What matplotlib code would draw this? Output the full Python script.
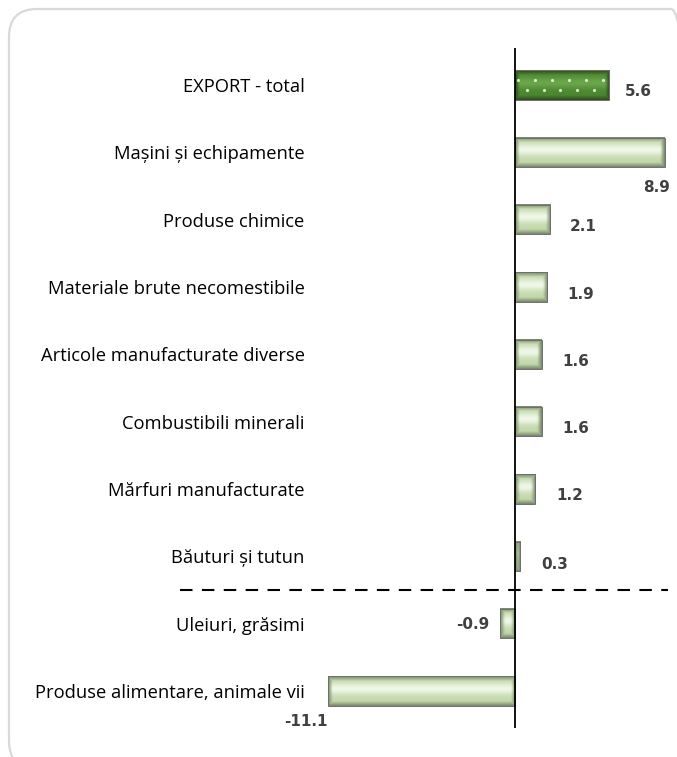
import numpy as np
import matplotlib.pyplot as plt
from matplotlib.colors import to_rgb
from matplotlib.patches import FancyBboxPatch
from matplotlib.transforms import IdentityTransform

categories = [
    "EXPORT - total",
    "Mașini și echipamente",
    "Produse chimice",
    "Materiale brute necomestibile",
    "Articole manufacturate diverse",
    "Combustibili minerali",
    "Mărfuri manufacturate",
    "Băuturi și tutun",
    "Uleiuri, grăsimi",
    "Produse alimentare, animale vii",
]
values = [5.6, 8.9, 2.1, 1.9, 1.6, 1.6, 1.2, 0.3, -0.9, -11.1]

# label offsets in pixels (dx, dy, ha)
label_pos = [
    (15, -6, "left"),
    (-8, -35, "center"),
    (19, -7, "left"),
    (20, -7, "left"),
    (20, -7, "left"),
    (20, -7, "left"),
    (21, -7, "left"),
    (21, -8, "left"),
    (-10, -1, "right"),
    (-22, -31, "center"),
]

PX_PER_UNIT = 16.85
BAR_H = 0.44


def bevel_image(w, h, edge, mid, hi, bw=5):
    # pillow-style bar: dark rim fading into a light centre
    w = max(int(round(w)), 2)
    h = max(int(round(h)), 2)
    xx, yy = np.meshgrid(np.arange(w) + 0.5, np.arange(h) + 0.5)
    d = np.minimum.reduce([xx, w - xx, yy, h - yy])
    t = np.clip(d / bw, 0, 1)[..., None]
    e, m, g = (np.array(to_rgb(c)) for c in (edge, mid, hi))
    img = e * (1 - t) + m * t
    band = np.exp(-((yy / h - 0.42) / 0.2) ** 2)[..., None] * (t ** 2)
    img = img * (1 - band) + g * band
    return np.clip(img, 0, 1)


plt.rcParams["font.family"] = ["Open Sans", "DejaVu Sans"]

fig = plt.figure(figsize=(6.77, 7.57), dpi=100)
ax = fig.add_axes([320 / 677, 29 / 757, 348 / 677, 680 / 757])

# rounded frame
frame = FancyBboxPatch((9, -12), 690, 757 - 9 + 12, boxstyle="round,pad=0,rounding_size=28",
                       transform=IdentityTransform(), fill=False, edgecolor="#d9d9d9",
                       linewidth=1.6, zorder=0)
fig.patches.append(frame)

y = np.arange(len(categories))

for i, v in enumerate(values):
    top = i == 0
    if top:
        cols = ("#2c4a1c", "#4c8530", "#6aa64a")
    else:
        cols = ("#76846a", "#c2d8aa", "#f0f7e8")
    img = bevel_image(abs(v) * PX_PER_UNIT, BAR_H * 68, *cols)
    x0, x1 = min(0, v), max(0, v)
    ax.imshow(img, extent=(x0, x1, i + BAR_H / 2, i - BAR_H / 2), origin="upper",
              aspect="auto", interpolation="bilinear", zorder=2)
    ax.barh(i, v, height=BAR_H, fill=False, edgecolor="#6e6e6e", linewidth=0.7, zorder=3)
    if top:
        for row, off in ((-0.07, 0.2), (0.08, 0.7)):
            xs = np.arange(off, v - 0.3, 1.0)
            ax.plot(xs, np.full_like(xs, i + row), ls="none", marker=".", ms=2.5,
                    color="#d8ecc8", zorder=5)
    dx, dy, ha = label_pos[i]
    ax.annotate(f"{v:.1f}", (v, i), xytext=(dx, dy), textcoords="offset pixels",
                ha=ha, va="center", fontsize=11, fontweight="bold", color="#404040",
                family=["DejaVu Sans"], zorder=6)

ax.set_xlim(-11.57, 9.08)
ax.set_ylim(9.55, -0.55)
ax.set_yticks(y)
ax.set_yticklabels(categories, fontsize=13.2, color="#000000")
ax.tick_params(axis="y", length=0, pad=11)
ax.tick_params(axis="x", bottom=False, labelbottom=False)
for s in ["top", "right", "bottom", "left"]:
    ax.spines[s].set_visible(False)
ax.axvline(0, color="black", linewidth=1.3, zorder=5)
ax.axhline(7.5, xmin=-0.402, xmax=1.0, color="black", linewidth=1.5,
           linestyle=(0, (6, 4.5)), clip_on=False, zorder=5)
ax.patch.set_alpha(0)

fig.savefig("out.png", dpi=100)
